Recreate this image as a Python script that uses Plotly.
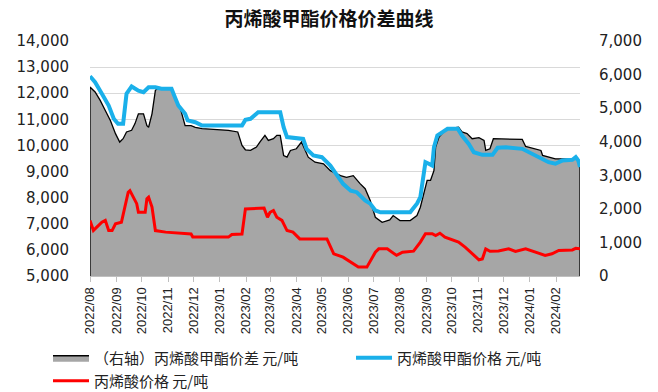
import plotly.graph_objects as go
import pandas as pd

# Data (元/吨)
# 丙烯酸甲酯价格 - left axis
ma_dates = [
    "2022-08-01", "2022-08-07", "2022-08-15", "2022-08-23", "2022-08-29", "2022-09-03",
    "2022-09-09", "2022-09-13", "2022-09-17", "2022-09-19", "2022-09-27", "2022-10-03",
    "2022-10-09", "2022-10-17", "2022-10-24", "2022-11-05", "2022-11-09", "2022-11-13",
    "2022-11-21", "2022-11-24", "2022-12-03", "2022-12-11", "2023-01-27", "2023-01-31",
    "2023-02-06", "2023-02-15", "2023-03-13", "2023-03-17", "2023-03-21", "2023-04-09",
    "2023-04-13", "2023-04-21", "2023-05-01", "2023-05-11", "2023-05-19", "2023-05-26",
    "2023-06-04", "2023-06-11", "2023-06-21", "2023-06-27", "2023-07-03", "2023-07-09",
    "2023-08-13", "2023-08-21", "2023-08-25", "2023-08-29", "2023-08-31", "2023-09-04",
    "2023-09-08", "2023-09-10", "2023-09-14", "2023-09-20", "2023-09-26", "2023-10-08",
    "2023-10-13", "2023-10-21", "2023-10-27", "2023-11-06", "2023-11-18", "2023-11-24",
    "2023-12-04", "2023-12-23", "2024-01-04", "2024-01-16", "2024-01-23", "2024-01-31",
    "2024-02-08", "2024-02-20", "2024-02-24", "2024-02-27", "2024-02-29",
]
ma_prices = [
    12650, 12420, 11980, 11530, 11020, 10830,
    10830, 11980, 12170, 12260, 12100, 12040,
    12230, 12230, 12170, 12170, 11850, 11530,
    11210, 10960, 10890, 10760, 10760, 10980,
    11020, 11270, 11270, 10700, 10320, 10250,
    9870, 9620, 9550, 9230, 8850, 8530,
    8270, 8210, 7890, 7770, 7510, 7440,
    7440, 7770, 8020, 9040, 9360, 9300,
    9230, 9930, 10380, 10510, 10640, 10640,
    10380, 10060, 9740, 9640, 9640, 9910,
    9930, 9870, 9680, 9490, 9360, 9300,
    9420, 9450, 9550, 9420, 9170,
]

# 丙烯酸价格 - left axis
aa_dates = [
    "2022-08-01", "2022-08-05", "2022-08-09", "2022-08-15", "2022-08-19", "2022-08-23",
    "2022-08-27", "2022-08-31", "2022-09-07", "2022-09-11", "2022-09-15", "2022-09-17",
    "2022-09-21", "2022-09-25", "2022-09-27", "2022-10-05", "2022-10-07", "2022-10-09",
    "2022-10-13", "2022-10-17", "2022-10-29", "2022-11-28", "2022-11-30", "2023-01-11",
    "2023-01-15", "2023-01-27", "2023-01-31", "2023-02-22", "2023-02-26", "2023-03-01",
    "2023-03-05", "2023-03-09", "2023-03-15", "2023-03-21", "2023-03-28", "2023-04-05",
    "2023-05-07", "2023-05-15", "2023-05-26", "2023-06-04", "2023-06-13", "2023-06-23",
    "2023-06-27", "2023-07-03", "2023-07-07", "2023-07-17", "2023-07-28", "2023-08-04",
    "2023-08-17", "2023-08-25", "2023-08-31", "2023-09-08", "2023-09-12", "2023-09-17",
    "2023-09-23", "2023-10-01", "2023-10-09", "2023-10-17", "2023-10-25", "2023-11-02",
    "2023-11-06", "2023-11-10", "2023-11-15", "2023-11-25", "2023-12-07", "2023-12-15",
    "2023-12-27", "2024-01-08", "2024-01-19", "2024-01-27", "2024-02-04", "2024-02-20",
    "2024-02-24", "2024-02-29",
]
aa_prices = [
    7130, 6740, 6870, 7060, 7130, 6740,
    6740, 7000, 7060, 7640, 8210, 8270,
    8020, 7770, 7440, 7440, 7960, 8020,
    7640, 6740, 6680, 6610, 6490, 6490,
    6590, 6610, 7570, 7600, 7250, 7440,
    7510, 7250, 7130, 6740, 6680, 6420,
    6420, 5850, 5720, 5530, 5340, 5340,
    5590, 5910, 6040, 6040, 5790, 5910,
    5950, 6300, 6620, 6620, 6550, 6640,
    6490, 6400, 6300, 6100, 5850, 5620,
    5650, 6040, 5950, 5960, 6040, 5940,
    6040, 5910, 5790, 5850, 5980, 6000,
    6060, 6040,
]

# （右轴）丙烯酸甲酯价差 - right axis
spread_dates = [
    "2022-08-01", "2022-08-07", "2022-08-13", "2022-08-19", "2022-08-25", "2022-08-31",
    "2022-09-05", "2022-09-09", "2022-09-13", "2022-09-19", "2022-09-23", "2022-09-27",
    "2022-10-03", "2022-10-07", "2022-10-09", "2022-10-13", "2022-10-17", "2022-10-21",
    "2022-11-05", "2022-11-09", "2022-11-15", "2022-11-21", "2022-11-28", "2022-12-03",
    "2022-12-11", "2023-01-11", "2023-01-22", "2023-01-27", "2023-01-31", "2023-02-06",
    "2023-02-13", "2023-02-17", "2023-02-23", "2023-02-27", "2023-03-05", "2023-03-09",
    "2023-03-13", "2023-03-17", "2023-03-21", "2023-03-25", "2023-04-01", "2023-04-07",
    "2023-04-15", "2023-04-23", "2023-05-03", "2023-05-11", "2023-05-23", "2023-05-30",
    "2023-06-07", "2023-06-15", "2023-06-21", "2023-06-27", "2023-07-03", "2023-07-11",
    "2023-07-20", "2023-07-24", "2023-08-01", "2023-08-13", "2023-08-21", "2023-08-25",
    "2023-08-29", "2023-09-02", "2023-09-06", "2023-09-10", "2023-09-12", "2023-09-16",
    "2023-09-23", "2023-09-27", "2023-10-09", "2023-10-13", "2023-10-19", "2023-10-25",
    "2023-11-02", "2023-11-08", "2023-11-10", "2023-11-15", "2023-11-19", "2023-11-29",
    "2023-12-23", "2023-12-27", "2024-01-08", "2024-01-14", "2024-01-16", "2024-01-23",
    "2024-01-31", "2024-02-08", "2024-02-20", "2024-02-26", "2024-02-29",
]
spread_values = [
    5630, 5480, 5230, 4930, 4630, 4240,
    3990, 4090, 4290, 4340, 4540, 4830,
    4830, 4480, 4430, 4830, 5530, 5610,
    5610, 5330, 5030, 4480, 4480, 4430,
    4390, 4340, 4290, 3890, 3760, 3740,
    3840, 3990, 4190, 4040, 4090, 4190,
    4190, 3590, 3540, 3740, 3790, 3990,
    3540, 3390, 3340, 3140, 2990, 2940,
    2990, 2750, 2600, 2250, 1750, 1600,
    1670, 1800, 1650, 1650, 1800, 2050,
    2450, 2850, 2850, 3140, 3840, 4140,
    4340, 4390, 4430, 4290, 4240, 4090,
    4120, 4040, 3740, 3790, 4090, 4090,
    4070, 3860, 3790, 3740, 3590, 3540,
    3490, 3490, 3470, 3520, 3240,
]

left_ticks = list(range(5000, 14001, 1000))
right_ticks = list(range(0, 7001, 1000))
month_ticks = pd.date_range("2022-08-01", "2024-02-01", freq="MS")

cjk = "Noto Sans CJK SC"
num_font = dict(family="DejaVu Sans", size=15, color="#222222")
legend_font = dict(family=cjk, size=15, color="#222222")

# plot area in pixels, used to place the legends in paper coordinates
PL, PT, PW, PH = 90, 41, 490, 235


def px_x(x):
    return (x - PL) / PW


def px_y(y):
    return (PT + PH - y) / PH


fig = go.Figure()

# spread area sits on the base axis (right side) so the price lines on the
# overlaying axis are drawn on top of it
fig.add_trace(go.Scatter(
    x=[spread_dates[0]] + spread_dates + [spread_dates[-1]],
    y=[0] + spread_values + [0],
    name="（右轴）丙烯酸甲酯价差 元/吨",
    mode="lines",
    fill="tozeroy",
    fillcolor="#a6a6a6",
    line=dict(color="#000000", width=1.3),
    yaxis="y",
    legend="legend",
))
fig.add_trace(go.Scatter(
    x=ma_dates, y=ma_prices,
    name="丙烯酸甲酯价格 元/吨",
    mode="lines",
    line=dict(color="#1ab0ea", width=4),
    yaxis="y2",
    legend="legend2",
))
fig.add_trace(go.Scatter(
    x=aa_dates, y=aa_prices,
    name="丙烯酸价格 元/吨",
    mode="lines",
    line=dict(color="#ff0000", width=3),
    yaxis="y2",
    legend="legend3",
))

legend_common = dict(xanchor="left", yanchor="middle", itemwidth=36,
                     font=legend_font, bgcolor="rgba(0,0,0,0)")

fig.update_layout(
    width=658,
    height=392,
    paper_bgcolor="white",
    plot_bgcolor="white",
    margin=dict(l=PL, r=658 - PL - PW, t=PT, b=392 - PT - PH, autoexpand=False),
    title=dict(
        text="<b>丙烯酸甲酯价格价差曲线</b>",
        x=0.5, xanchor="center",
        y=1 - 19 / 392, yanchor="middle",
        font=dict(family=cjk, size=19, color="#111111"),
    ),
    xaxis=dict(
        type="date",
        range=["2022-08-01", "2024-02-29"],
        tickvals=month_ticks,
        tickformat="%Y/%m",
        tickangle=-90,
        ticks="outside",
        ticklen=5,
        tickcolor="#bfbfbf",
        tickfont=dict(family="Liberation Sans", size=13, color="#222222"),
        showgrid=False,
        showline=True,
        linecolor="#bfbfbf",
        zeroline=False,
    ),
    # right axis: 价差
    yaxis=dict(
        range=[0, 7000],
        tickvals=right_ticks,
        tickformat=",d",
        tickfont=num_font,
        side="right",
        showgrid=False,
        zeroline=False,
        ticklabelstandoff=18,
    ),
    # left axis: prices
    yaxis2=dict(
        range=[5000, 14000],
        tickvals=left_ticks,
        tickformat=",d",
        tickfont=num_font,
        overlaying="y",
        side="left",
        showgrid=True,
        gridcolor="#d9d9d9",
        zeroline=False,
        ticklabelstandoff=20,
    ),
    legend=dict(x=px_x(48), y=px_y(358), **legend_common),
    legend2=dict(x=px_x(351), y=px_y(358), **legend_common),
    legend3=dict(x=px_x(48), y=px_y(381), **legend_common),
    showlegend=True,
)

# drop the page's default body margin so the figure sits at the window corner
fig.write_html(
    "out.html",
    config={"displayModeBar": False},
    post_script="document.body.style.margin = '0';",
)
